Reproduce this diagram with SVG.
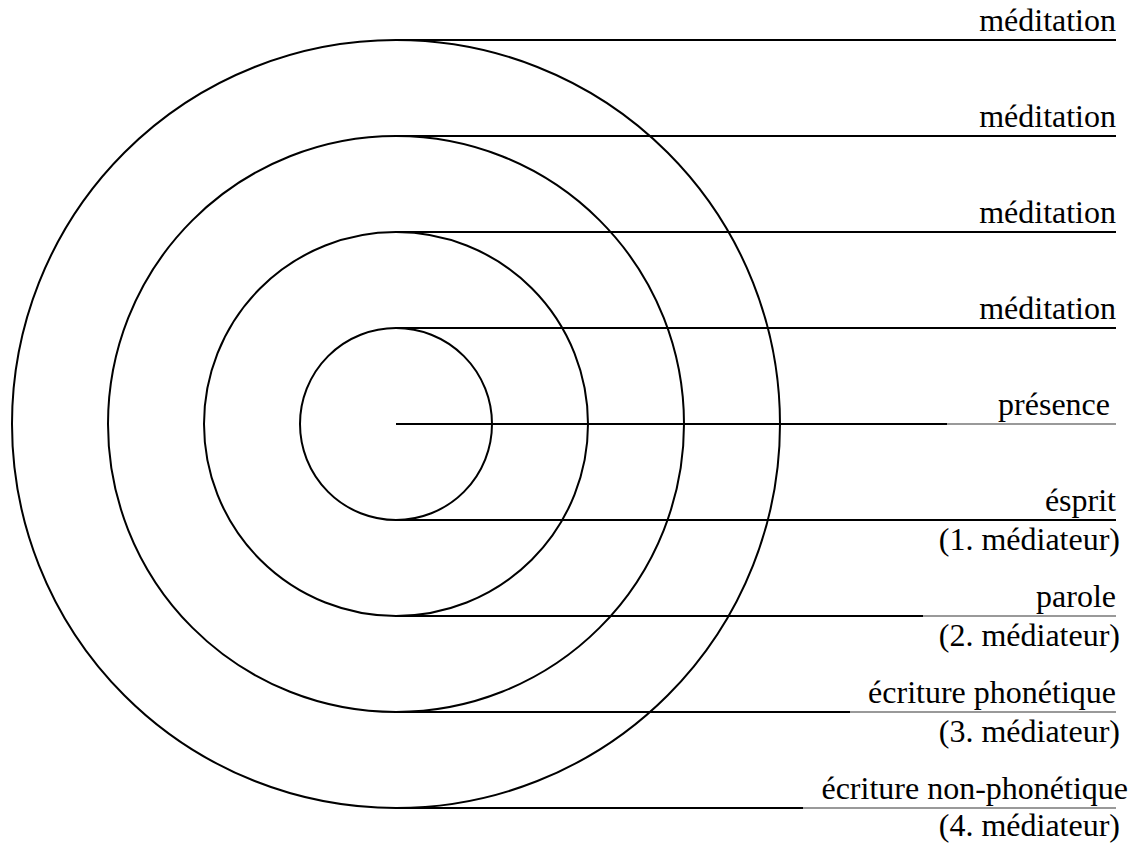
<svg xmlns="http://www.w3.org/2000/svg" width="1132" height="844" viewBox="0 0 1132 844">
<style>
.c{fill:none;stroke:#000;stroke-width:2}
.l{stroke:#000;stroke-width:2}
.g{stroke:#999;stroke-width:2}
.t{font-family:"Liberation Serif","DejaVu Serif","Noto Serif",Tinos,Times,serif;font-size:32px;fill:#000;text-anchor:end}
</style>
<rect width="1132" height="844" fill="#fff"/>
<g id="circles">
<circle id="circle1" class="c" cx="396" cy="424" r="96"/>
<circle id="circle2" class="c" cx="396" cy="424" r="192"/>
<circle id="circle3" class="c" cx="396" cy="424" r="288"/>
<circle id="circle4" class="c" cx="396" cy="424" r="384"/>
</g>
<g id="connectors">
<line class="l" x1="396" y1="40" x2="1116" y2="40"/>
<line class="l" x1="396" y1="136" x2="1116" y2="136"/>
<line class="l" x1="396" y1="232" x2="1116" y2="232"/>
<line class="l" x1="396" y1="328" x2="1116" y2="328"/>
<line class="l" x1="396" y1="424" x2="947" y2="424"/>
<line class="g" x1="947" y1="424" x2="1116" y2="424"/>
<line class="l" x1="396" y1="520" x2="1116" y2="520"/>
<line class="l" x1="396" y1="616" x2="923" y2="616"/>
<line class="g" x1="923" y1="616" x2="1116" y2="616"/>
<line class="l" x1="396" y1="712" x2="850" y2="712"/>
<line class="g" x1="850" y1="712" x2="1116" y2="712"/>
<line class="l" x1="396" y1="808" x2="803" y2="808"/>
<line class="g" x1="803" y1="808" x2="1116" y2="808"/>
</g>
<g id="label-meditation-1"><text class="t" x="1116" y="31">méditation</text></g>
<g id="label-meditation-2"><text class="t" x="1116" y="127">méditation</text></g>
<g id="label-meditation-3"><text class="t" x="1116" y="223">méditation</text></g>
<g id="label-meditation-4"><text class="t" x="1116" y="319">méditation</text></g>
<g id="label-presence"><text class="t" x="1110" y="415">présence</text></g>
<g id="label-esprit"><text class="t" x="1116" y="511">ésprit</text><text class="t" x="1120" y="550">(1. médiateur)</text></g>
<g id="label-parole"><text class="t" x="1116" y="607">parole</text><text class="t" x="1120" y="646">(2. médiateur)</text></g>
<g id="label-phonetique"><text class="t" x="1116" y="703">écriture phonétique</text><text class="t" x="1120" y="742">(3. médiateur)</text></g>
<g id="label-non-phonetique"><text class="t" x="1128" y="799">écriture non-phonétique</text><text class="t" x="1120" y="836">(4. médiateur)</text></g>
</svg>
